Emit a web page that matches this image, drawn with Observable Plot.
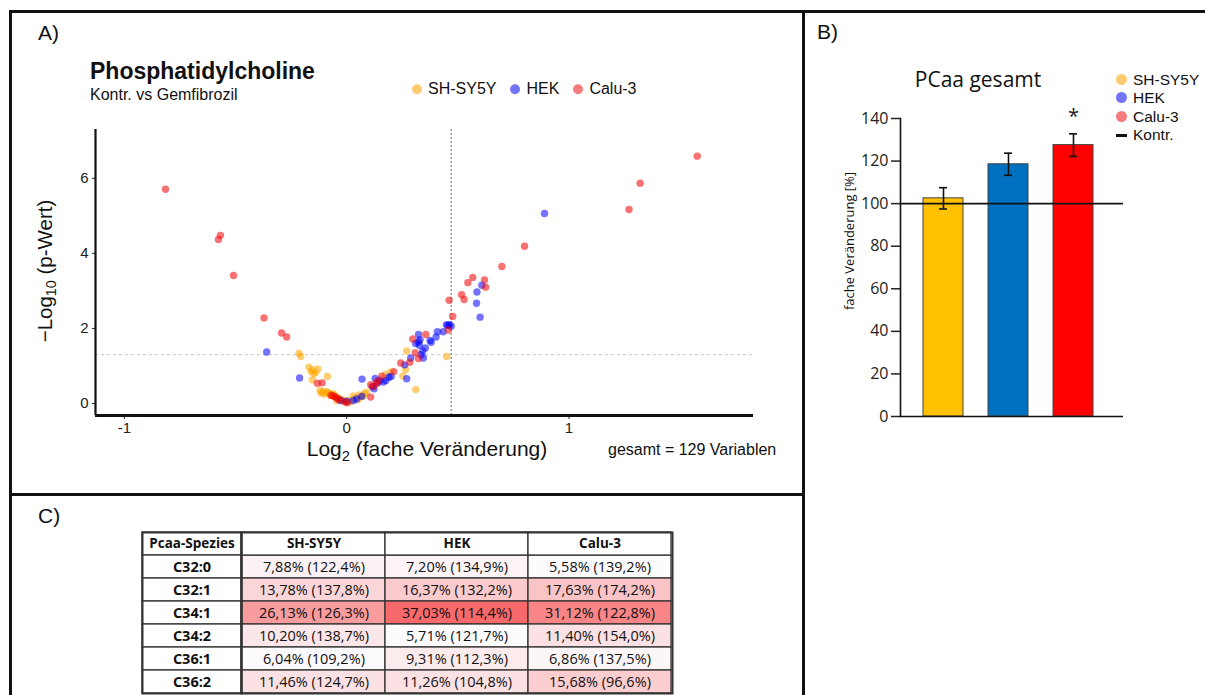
<!DOCTYPE html>
<html>
<head>
<meta charset="utf-8">
<script src="https://cdn.jsdelivr.net/npm/d3@7"></script>
<script src="https://cdn.jsdelivr.net/npm/@observablehq/plot@0.6"></script>
<style>
  body { margin: 0; background: #fff; }
  #fig { position: relative; width: 1205px; height: 695px; overflow: hidden; background: #fff; color: #111; font-family: 'Liberation Sans', Arial, sans-serif; }
  .abs { position: absolute; white-space: nowrap; line-height: 1.1; }
  .vc { transform: translateY(-50%); }
  .line { position: absolute; background: #111; }
  sub { font-size: 70%; vertical-align: -0.3em; line-height: 0; }
</style>
</head>
<body>
<div id="fig">
  <!-- frame lines -->
  <div class="line" style="left:9px;top:10px;width:1196px;height:3px"></div>
  <div class="line" style="left:9px;top:10px;width:3px;height:685px"></div>
  <div class="line" style="left:802px;top:10px;width:3px;height:685px"></div>
  <div class="line" style="left:9px;top:493px;width:796px;height:3px"></div>

  <!-- panel letters -->
  <div class="abs vc" style="left:38px;top:33px;font-size:21px">A)</div>
  <div class="abs vc" style="left:817px;top:32px;font-size:21px">B)</div>
  <div class="abs vc" style="left:38px;top:516px;font-size:21px">C)</div>

  <!-- panel A texts -->
  <div class="abs vc" style="left:90px;top:72px;font-size:23px;font-weight:bold">Phosphatidylcholine</div>
  <div class="abs vc" style="left:90px;top:95px;font-size:16px">Kontr. vs Gemfibrozil</div>
  <div id="legA" class="abs vc" style="left:412px;top:89px;font-size:16px;display:flex;align-items:center"></div>
  <div class="abs" style="left:45px;top:271px;font-size:20.5px;transform:translate(-50%,-50%) rotate(-90deg)">&minus;Log<sub>10</sub> (p-Wert)</div>
  <div class="abs" style="left:427px;top:449px;font-size:21px;transform:translate(-50%,-50%)">Log<sub>2</sub> (fache Veränderung)</div>
  <div class="abs vc" style="left:608px;top:450px;font-size:16px">gesamt = 129 Variablen</div>

  <!-- panel B texts -->
  <div class="abs" style="left:978px;top:80px;font-size:21px;font-family:'Open Sans',sans-serif;transform:translate(-50%,-50%)">PCaa gesamt</div>
  <div id="legB" class="abs" style="left:1116px;top:70px;font-size:15.5px;font-family:'Liberation Sans',Arial,sans-serif"></div>
  <div class="abs" style="left:849px;top:241px;font-size:13px;font-family:'Open Sans',sans-serif;transform:translate(-50%,-50%) rotate(-90deg)">fache Veränderung [%]</div>

  <div id="pA" class="abs" style="left:0;top:0"></div>
  <div id="pB" class="abs" style="left:804px;top:0"></div>
  <div id="pC1" class="abs" style="left:141px;top:531px"></div>
  <div id="pC2" class="abs" style="left:240px;top:531px"></div>
</div>
<script>
// ---------------- data ----------------
const lines = ["SH-SY5Y", "HEK", "Calu-3"];

// Panel A: volcano plot points [log2 fold change, -log10 p]
const shPts = [
  [-0.215,1.34],[-0.207,1.25],[-0.17,0.97],[-0.155,0.9],[-0.14,0.83],[-0.147,0.79],[-0.087,0.72],
  [-0.155,0.63],[-0.095,0.32],[-0.08,0.27],[-0.065,0.23],[-0.072,0.21],[-0.042,0.17],[-0.006,0.03],
  [0.056,0.23],[0.063,0.17],[0.198,0.84],[0.252,0.73],[0.27,1.4],[0.311,0.37],[0.45,1.25],
  [-0.11,0.3],[-0.12,0.35],[-0.1,0.25],[-0.03,0.12],[0.02,0.05],[0.04,0.15],[0.08,0.26],
  [-0.16,0.85],[-0.13,0.92],[-0.085,0.3],[-0.055,0.19],[0.075,0.2],[0.01,0.08],[-0.02,0.1],
  [0.265,0.9],[-0.06,0.26],[0.05,0.1],[0.09,0.3],[-0.115,0.28],[-0.045,0.08],[0.03,0.2],[0.175,0.78]
];
const hekPts = [
  [-0.36,1.37],[-0.212,0.68],[-0.027,0.08],[0.03,0.08],[0.068,0.19],[0.069,0.65],[0.123,0.39],
  [0.128,0.67],[0.176,0.61],[0.19,0.7],[0.27,0.66],[0.261,1.03],[0.288,1.21],[0.345,1.21],
  [0.342,1.4],[0.354,1.48],[0.327,1.55],[0.323,1.64],[0.323,1.84],[0.38,1.63],[0.402,1.77],
  [0.408,1.91],[0.434,1.91],[0.449,2.1],[0.462,2.1],[0.47,2.06],[0.6,2.3],[0.584,2.67],
  [0.586,2.97],[0.608,3.15],[0.89,5.06],[0.15,0.62],[0.115,0.45],[0.2,0.72],[0.31,1.6],
  [0.0,0.06],[0.165,0.57],[0.045,0.12],[0.455,2.08],[0.14,0.55],[0.33,1.7],[0.335,1.3],[0.375,1.68]
];
const caluPts = [
  [-0.815,5.71],[-0.577,4.37],[-0.568,4.48],[-0.509,3.41],[-0.372,2.28],[-0.293,1.88],[-0.27,1.77],
  [-0.132,0.54],[-0.11,0.55],[-0.05,0.17],[-0.042,0.13],[-0.06,0.2],[0.003,0.02],[-0.01,0.05],
  [0.108,0.17],[0.108,0.5],[0.135,0.54],[0.158,0.73],[0.212,0.85],[0.243,1.08],[0.284,1.1],
  [0.323,1.2],[0.308,1.35],[0.297,1.72],[0.356,1.84],[0.457,1.96],[0.477,2.32],[0.461,2.75],
  [0.517,2.9],[0.528,2.77],[0.545,3.22],[0.567,3.36],[0.62,3.29],[0.625,3.1],[0.698,3.65],
  [0.80,4.19],[1.27,5.17],[1.32,5.87],[1.577,6.59],[0.12,0.45],[0.14,0.6],[-0.07,0.22],[-0.035,0.1]
];
const sigThreshold = 1.301;   // -log10(0.05)
const fcThreshold = 0.47;
const xTicksA = [-1, 0, 1];
const yTicksA = [0, 2, 4, 6];
const xDomainA = [-1.13, 1.83];
const yDomainA = [-0.32, 7.3];

// Panel B: PCaa gesamt
const barMean = [102.5, 118.5, 127.5];
const barErr = [5.0, 5.2, 5.3];
const barSig = ["", "", "*"];
const controlLevel = 100;
const yTicksB = [0, 20, 40, 60, 80, 100, 120, 140];

// Panel C: table
const species = ["C32:0", "C32:1", "C34:1", "C34:2", "C36:1", "C36:2"];
const pctSH   = [7.88, 13.78, 26.13, 10.20, 6.04, 11.46];
const fcSH    = [122.4, 137.8, 126.3, 138.7, 109.2, 124.7];
const pctHEK  = [7.20, 16.37, 37.03, 5.71, 9.31, 11.26];
const fcHEK   = [134.9, 132.2, 114.4, 121.7, 112.3, 104.8];
const pctCalu = [5.58, 17.63, 31.12, 11.40, 6.86, 15.68];
const fcCalu  = [139.2, 174.2, 122.8, 154.0, 137.5, 96.6];
const headerFirst = "Pcaa-Spezies";

// ---------------- styles ----------------
const dotColors = ["#FFA500", "#0000FF", "#F00000"];
const legendColors = ["#FECB70", "#7474F8", "#F47C7C"];
const barFills = ["#FFC000", "#0070C0", "#FF0000"];
const LS = "'Liberation Sans', Arial, sans-serif";
const OS = "'Open Sans', sans-serif";

// ---------------- panel A ----------------
const volcano = [
  ...shPts.map(([x, y]) => ({line: lines[0], x, y})),
  ...hekPts.map(([x, y]) => ({line: lines[1], x, y})),
  ...caluPts.map(([x, y]) => ({line: lines[2], x, y}))
];
const plotA = Plot.plot({
  width: 804, height: 494,
  marginLeft: 95, marginRight: 51, marginTop: 129, marginBottom: 79,
  x: {domain: xDomainA},
  y: {domain: yDomainA},
  color: {domain: lines, range: dotColors},
  style: {fontFamily: LS, fontSize: "15px", color: "#222", background: "transparent", overflow: "visible"},
  marks: [
    Plot.ruleY([sigThreshold], {stroke: "#c4c4c4", strokeDasharray: "3,3", strokeWidth: 1}),
    Plot.ruleX([fcThreshold], {stroke: "#8a8a8a", strokeDasharray: "2,2", strokeWidth: 1.3}),
    Plot.dot(volcano, {x: "x", y: "y", fill: "line", r: 3.7, fillOpacity: 0.55}),
    Plot.axisX({ticks: xTicksA, tickSize: 4, tickPadding: 3, tickFormat: d => String(d), label: null, fontSize: 15}),
    Plot.axisY({ticks: yTicksA, tickSize: 3, tickPadding: 4, tickFormat: d => String(d), label: null, fontSize: 15}),
    Plot.ruleX([xDomainA[0]], {stroke: "#111", strokeWidth: 2.2}),
    Plot.ruleY([yDomainA[0]], {stroke: "#111", strokeWidth: 2.8})
  ]
});
document.getElementById("pA").appendChild(plotA);

const legA = document.getElementById("legA");
lines.forEach((l, i) => {
  const c = document.createElement("span");
  c.style.cssText = `display:inline-block;width:10px;height:10px;border-radius:50%;background:${legendColors[i]};margin-right:6px`;
  const t = document.createElement("span");
  t.textContent = l;
  t.style.marginRight = "14px";
  legA.appendChild(c); legA.appendChild(t);
});

// ---------------- panel B ----------------
const bars = lines.map((line, i) => ({line, mean: barMean[i], err: barErr[i], sig: barSig[i]}));
const plotB = Plot.plot({
  width: 401, height: 440,
  marginLeft: 96, marginRight: 82, marginTop: 118, marginBottom: 24,
  x: {domain: lines, paddingInner: 0.38, paddingOuter: 0.38, align: 0.44, axis: null},
  y: {domain: [0, 140]},
  color: {domain: lines, range: barFills},
  style: {fontFamily: OS, fontSize: "16px", color: "#222", background: "transparent", overflow: "visible"},
  marks: [
    Plot.barY(bars, {x: "line", y: "mean", fill: "line", stroke: "#444", strokeWidth: 1, inset: 0}),
    Plot.ruleY([controlLevel], {stroke: "#111", strokeWidth: 1.6}),
    Plot.ruleX(bars, {x: "line", y1: d => d.mean - d.err, y2: d => d.mean + d.err, stroke: "#111", strokeWidth: 1.6}),
    Plot.tickY(bars, {x: "line", y: d => d.mean - d.err, insetLeft: 16, insetRight: 16, stroke: "#111", strokeWidth: 1.6}),
    Plot.tickY(bars, {x: "line", y: d => d.mean + d.err, insetLeft: 16, insetRight: 16, stroke: "#111", strokeWidth: 1.6}),
    Plot.text(bars, {x: "line", y: d => d.mean + d.err, text: "sig", dy: -17, fontSize: 20, fill: "#222"}),
    Plot.axisY({ticks: yTicksB, tickSize: 9, tickPadding: 3, label: null, fontSize: 16, strokeWidth: 1.5}),
    Plot.frame({anchor: "left", stroke: "#111", strokeWidth: 1.6}),
    Plot.ruleY([0], {stroke: "#111", strokeWidth: 1.6})
  ]
});
document.getElementById("pB").appendChild(plotB);

const legB = document.getElementById("legB");
lines.concat(["Kontr."]).forEach((l, i) => {
  const row = document.createElement("div");
  row.style.cssText = "display:flex;align-items:center;height:18.6px;line-height:1";
  const c = document.createElement("span");
  if (i < 3) c.style.cssText = `display:inline-block;width:11px;height:11px;border-radius:50%;background:${legendColors[i]};margin-right:6px`;
  else c.style.cssText = "display:inline-block;width:11px;height:3px;background:#111;margin-right:6px";
  const t = document.createElement("span");
  t.textContent = l;
  t.style.lineHeight = "1";
  row.appendChild(c); row.appendChild(t);
  legB.appendChild(row);
});

// ---------------- panel C ----------------
const HDR = "__hdr";
const rowsDomain = [HDR, ...species];
const pcts = [pctSH, pctHEK, pctCalu];
const fcs = [fcSH, fcHEK, fcCalu];
const tableRows = lines.flatMap((line, i) => species.map((sp, j) => ({line, species: sp, pct: pcts[i][j], fc: fcs[i][j]})));
const fmtNum = (v, n) => v.toFixed(n).replace(".", ",");
const allPct = pcts.flat();

const plotC1 = Plot.plot({
  width: 101, height: 163, margin: 1,
  x: {domain: ["sp"], axis: null, padding: 0},
  y: {domain: rowsDomain, axis: null, padding: 0},
  style: {fontFamily: OS, background: "transparent", overflow: "visible"},
  marks: [
    Plot.cell(rowsDomain, {x: () => "sp", y: d => d, fill: "white", stroke: "#333", strokeWidth: 1.3, inset: 0}),
    Plot.text(rowsDomain, {x: () => "sp", y: d => d, text: d => d === HDR ? headerFirst : d, fontWeight: "bold", fontSize: d => d === HDR ? 13.5 : 14.5, fill: "#111"}),
    Plot.frame({stroke: "#333", strokeWidth: 2})
  ]
});
document.getElementById("pC1").appendChild(plotC1);

const plotC2 = Plot.plot({
  width: 433, height: 163, margin: 1,
  x: {domain: lines, axis: null, padding: 0},
  y: {domain: rowsDomain, axis: null, padding: 0},
  color: {type: "linear", domain: d3.extent(allPct), range: ["#FCFCFF", "#F8696B"], interpolate: "rgb"},
  style: {fontFamily: OS, background: "transparent", overflow: "visible"},
  marks: [
    Plot.cell(tableRows, {x: "line", y: "species", fill: "pct", stroke: "#333", strokeWidth: 1.3, inset: 0}),
    Plot.cell(lines, {x: d => d, y: () => HDR, fill: "white", stroke: "#333", strokeWidth: 1.3, inset: 0}),
    Plot.text(tableRows, {x: "line", y: "species", text: d => `${fmtNum(d.pct, 2)}% (${fmtNum(d.fc, 1)}%)`, fontSize: 14.5, fill: "#111"}),
    Plot.text(lines, {x: d => d, y: () => HDR, text: d => d, fontWeight: "bold", fontSize: 13.5, fill: "#111"}),
    Plot.frame({stroke: "#333", strokeWidth: 2})
  ]
});
document.getElementById("pC2").appendChild(plotC2);
</script>
</body>
</html>
